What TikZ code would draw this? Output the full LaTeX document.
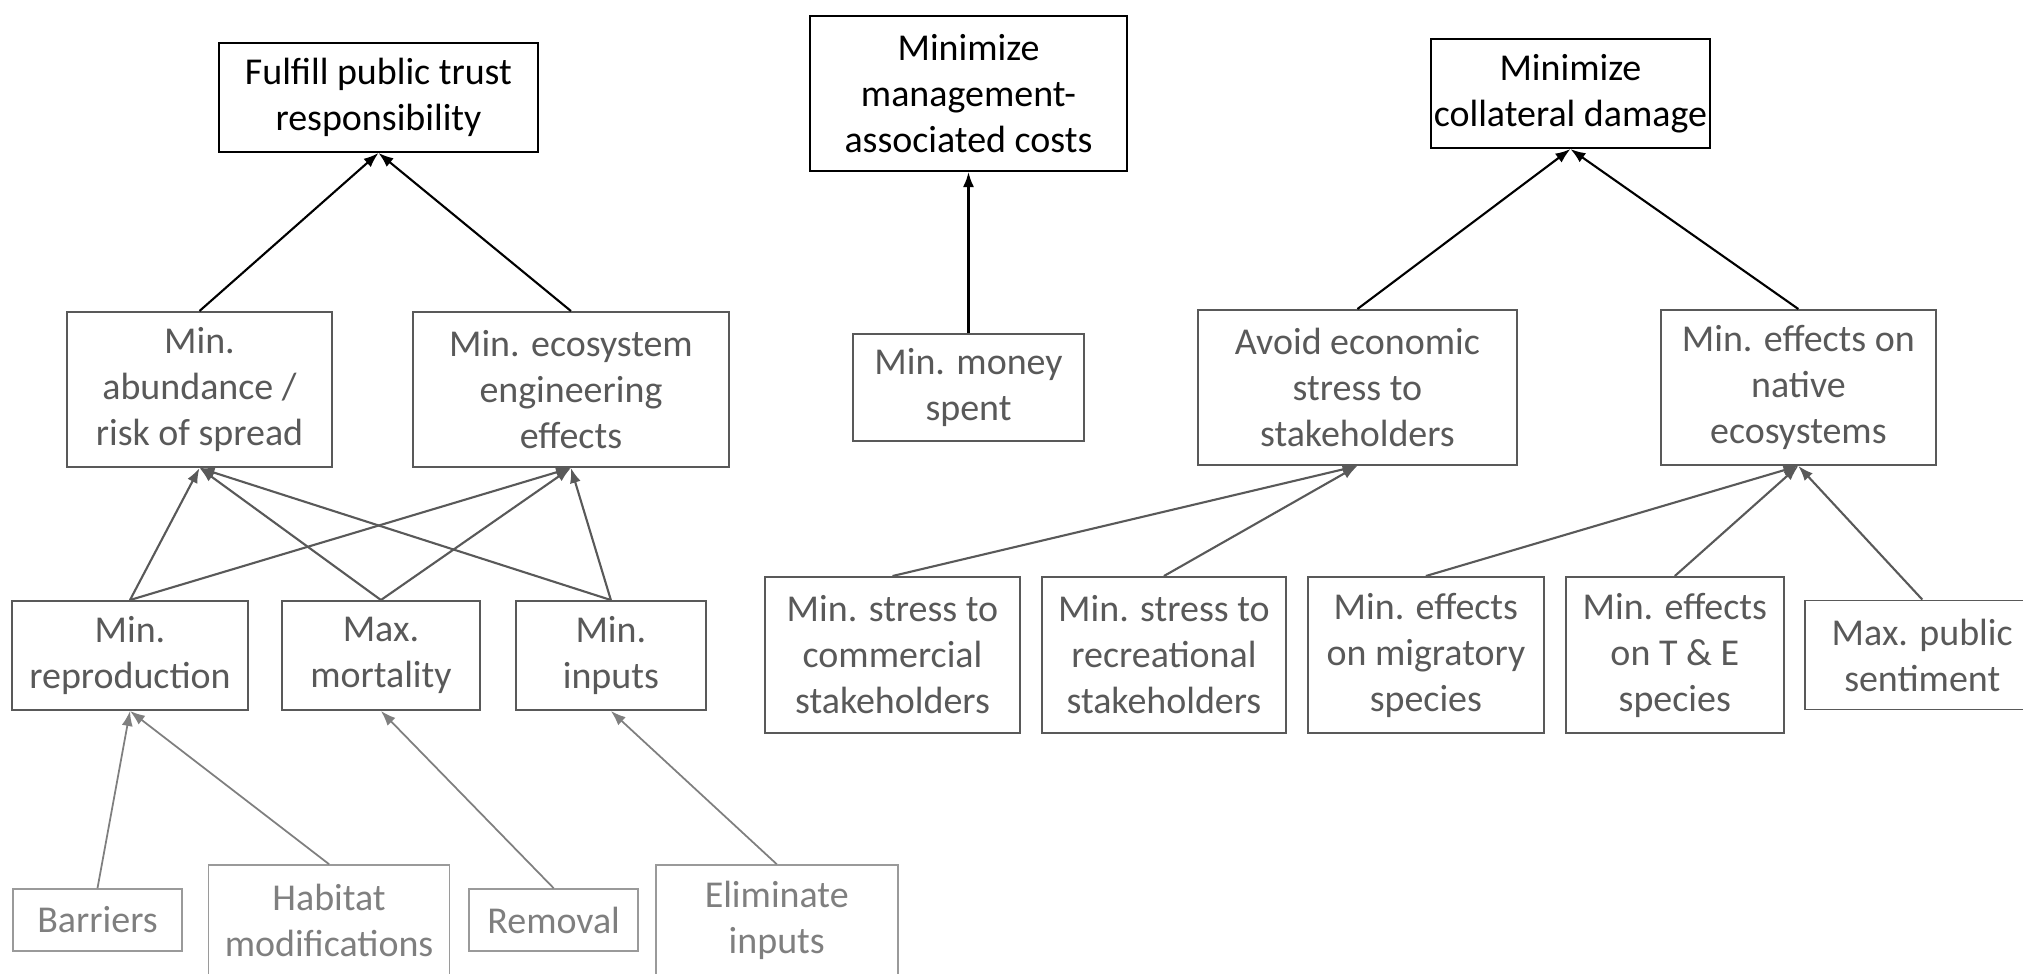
\documentclass[tikz,border=0pt]{standalone}
\usepackage{fontspec}
\setmainfont{Carlito}
\usetikzlibrary{arrows.meta,positioning}
\definecolor{ink}{HTML}{000000}
\definecolor{slate}{HTML}{595959}
\definecolor{ash}{HTML}{7F7F7F}
\definecolor{ashline}{HTML}{9A9A9A}
\tikzset{
  base/.style={draw,align=center,inner ysep=2pt,inner xsep=0.8pt,line width=0.55pt,font=\fontsize{10.8}{13.1}\selectfont},
  goal/.style={base,draw=ink,text=ink},
  objective/.style={base,draw=slate,text=slate},
  means/.style={base,draw=slate,text=slate},
  action/.style={base,draw=ashline,text=ash,line width=0.45pt},
  flow/.style={-{Latex[length=1.5mm,width=1.1mm]},line width=0.6pt,draw=ink},
  subflow/.style={flow,draw=slate},
  actflow/.style={flow,draw=ash,line width=0.5pt}
}
\begin{document}
\begin{tikzpicture}[x=1mm,y=-1mm]
\useasboundingbox (0,0) rectangle (202.3,97.4);

% fundamental objectives and their sub-objectives
\node[goal,minimum width=31.9mm,minimum height=10.9mm] (trust) at (37.85,9.75) {Fulfill public trust\\responsibility};
\node[objective,minimum width=26.5mm,minimum height=15.5mm] (abund) at (19.95,38.95) {Min.\\abundance /\\risk of spread};
\node[objective,minimum width=31.6mm,minimum height=15.5mm,right=7.9mm of abund] (ecoeng) {Min. ecosystem\\engineering\\effects};
\node[objective,minimum width=23.1mm,minimum height=10.7mm] (money) at (96.85,38.75) {Min. money\\spent};
\node[goal,minimum width=31.7mm,minimum height=15.5mm,above=16.1mm of money] (costs) {Minimize\\management-\\associated costs};
\node[goal,minimum width=27.9mm,minimum height=10.9mm,right=30.2mm of costs] (collat) {Minimize\\collateral damage};
\node[objective,minimum width=31.9mm,minimum height=15.5mm,right=11.2mm of money] (avoid) {Avoid economic\\stress to\\stakeholders};
\node[objective,minimum width=27.5mm,minimum height=15.5mm,right=14.2mm of avoid] (native) {Min. effects on\\native\\ecosystems};

% means objectives
\node[means,minimum width=23.6mm,minimum height=10.9mm] (repro) at (13.0,65.55) {Min.\\reproduction};
\node[means,minimum width=19.8mm,minimum height=10.9mm,right=3.2mm of repro] (mort) {Max.\\mortality};
\node[means,minimum width=19.0mm,minimum height=10.9mm,right=3.4mm of mort] (inputs) {Min.\\inputs};
\node[means,minimum width=25.5mm,minimum height=15.6mm] (comm) at (89.25,65.5) {Min. stress to\\commercial\\stakeholders};
\node[means,minimum width=24.4mm,minimum height=15.6mm,right=2.0mm of comm] (recr) {Min. stress to\\recreational\\stakeholders};
\node[means,minimum width=23.6mm,minimum height=15.6mm,right=2.0mm of recr] (migr) {Min. effects\\on migratory\\species};
\node[means,minimum width=21.8mm,minimum height=15.6mm,right=2.0mm of migr] (tande) {Min. effects\\on T \& E\\species};
\node[means,minimum width=23.5mm,minimum height=10.9mm,right=1.9mm of tande] (sentim) {Max. public\\sentiment};

% management actions
\node[action,minimum width=16.9mm,minimum height=6.2mm] (barr) at (9.75,92.0) {Barriers};
\node[action,minimum width=24.1mm,minimum height=11mm,right=2.5mm of barr] (habit) {Habitat\\modifications};
\node[action,minimum width=16.9mm,minimum height=6.2mm,right=1.8mm of habit] (remov) {Removal};
\node[action,minimum width=24.2mm,minimum height=11mm,right=1.6mm of remov] (elim) {Eliminate\\inputs};

\draw[flow] (abund.north) -- (trust.south);
\draw[flow] (ecoeng.north) -- (trust.south);
\draw[flow] (money.north) -- (costs.south);
\draw[flow] (avoid.north) -- (collat.south);
\draw[flow] (native.north) -- (collat.south);

\draw[subflow] (repro.north) -- (abund.south);
\draw[subflow] (repro.north) -- (ecoeng.south);
\draw[subflow] (mort.north) -- (abund.south);
\draw[subflow] (mort.north) -- (ecoeng.south);
\draw[subflow] (inputs.north) -- (abund.south);
\draw[subflow] (inputs.north) -- (ecoeng.south);
\draw[subflow] (comm.north) -- (avoid.south);
\draw[subflow] (recr.north) -- (avoid.south);
\draw[subflow] (migr.north) -- (native.south);
\draw[subflow] (tande.north) -- (native.south);
\draw[subflow] (sentim.north) -- (native.south);

\draw[actflow] (barr.north) -- (repro.south);
\draw[actflow] (habit.north) -- (repro.south);
\draw[actflow] (remov.north) -- (mort.south);
\draw[actflow] (elim.north) -- (inputs.south);
\end{tikzpicture}
\end{document}
